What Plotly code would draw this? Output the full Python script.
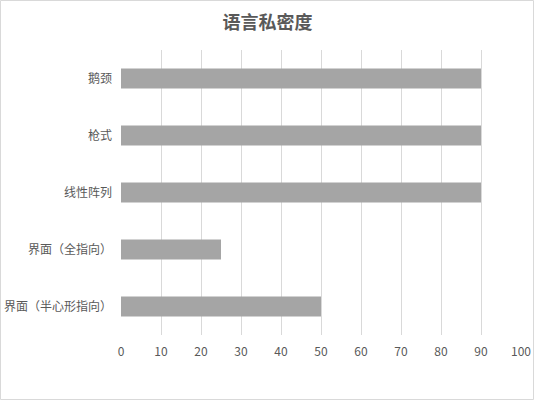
import plotly.graph_objects as go

categories = ["鹅颈", "枪式", "线性阵列", "界面（全指向）", "界面（半心形指向）"]
values = [90, 90, 90, 25, 50]
x_ticks = [0, 10, 20, 30, 40, 50, 60, 70, 80, 90, 100]

W, H = 535, 401
L, R, T, B = 121, 14, 50, 66
pw, ph = W - L - R, H - T - B

fig = go.Figure(go.Bar(
    y=categories, x=values, orientation="h",
    marker=dict(color="#a5a5a5", line=dict(width=0)),
    width=0.35, hoverinfo="skip",
))

fig.update_layout(
    width=W, height=H, autosize=False,
    margin=dict(l=L, r=R, t=T, b=B, pad=0, autoexpand=False),
    paper_bgcolor="white", plot_bgcolor="white",
    font=dict(family="Noto Sans CJK SC", color="#595959", size=12),
    title=dict(text="<b>语言私密度</b>", x=0.5, xref="container", xanchor="center",
               y=1 - 23 / H, yref="container", yanchor="middle",
               font=dict(size=18, color="#595959", family="Noto Sans CJK SC")),
    showlegend=False,
    xaxis=dict(range=[0, 100], tickvals=x_ticks, showgrid=True, gridcolor="#d9d9d9",
               gridwidth=1, zeroline=False, showline=False, ticks="", ticklen=0,
               ticklabelstandoff=8,
               automargin=False, tickfont=dict(size=12, color="#595959")),
    yaxis=dict(autorange="reversed", showgrid=False, zeroline=False, showline=False,
               ticks="", ticklabelstandoff=8, automargin=False,
               tickfont=dict(size=12, color="#595959")),
    bargap=0.65,
    shapes=[dict(type="rect", xref="paper", yref="paper",
                 x0=-(L - 0.5) / pw, x1=1 + (R - 1.5) / pw,
                 y0=-(B - 1.5) / ph, y1=1 + (T - 0.5) / ph,
                 line=dict(color="#d9d9d9", width=1), fillcolor="rgba(0,0,0,0)", layer="below")],
)

fig.write_html("out.html", config={"responsive": False, "displayModeBar": False},
               post_script="document.body.style.margin='0';document.body.style.overflow='hidden';")
